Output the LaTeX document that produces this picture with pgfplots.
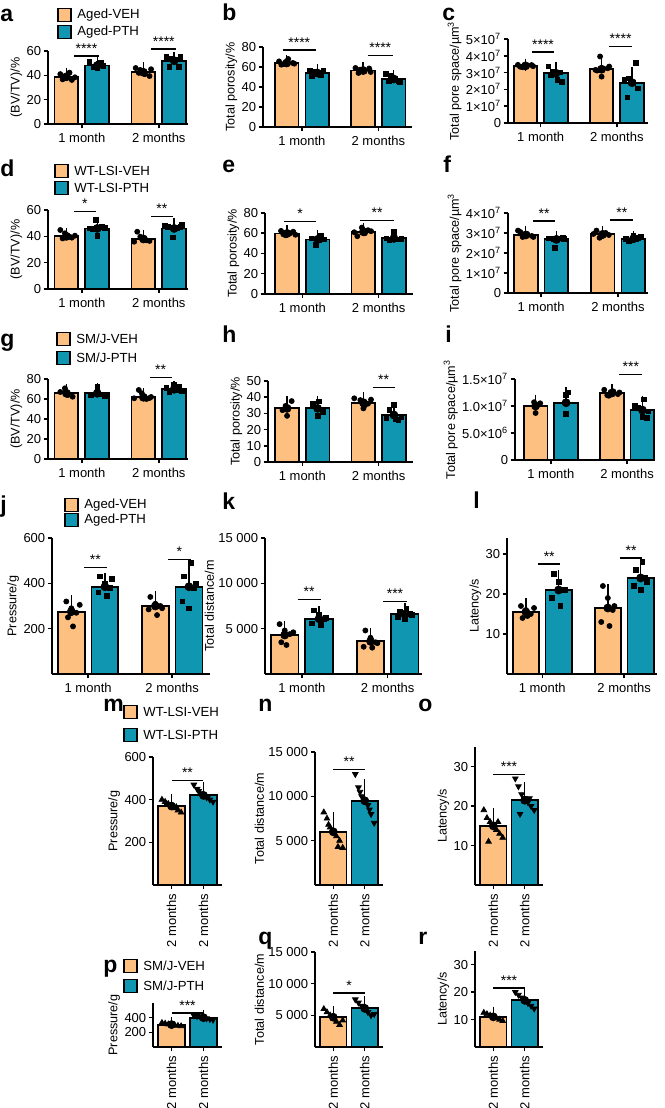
\documentclass[border=0pt]{standalone}
\usepackage{fontspec}
\setmainfont{Liberation Sans}
\usepackage{pgfplots}
\pgfplotsset{compat=1.18}
\usetikzlibrary{calc}

\definecolor{veh}{RGB}{253,192,128}
\definecolor{pth}{RGB}{16,150,176}

\newcommand\tickfont{\fontsize{6.5}{7}\selectfont}
\newcommand\labfont{\fontsize{6.3}{7}\selectfont}
\newcommand\starfont{\fontsize{7}{7}\selectfont}
\newcommand\panfont{\fontsize{11.5}{12}\selectfont\bfseries}
\newcommand\legfont{\fontsize{6.6}{7}\selectfont}

\def\BW{0.31}
% bar with mean and +SD whisker
\newcommand\Bar[4]{%
  \addplot[ybar, bar width=\BW, bar shift=0pt, fill=#4, draw=black, line width=0.9pt] coordinates {(#1,#2)};
  \addplot[only marks, mark=none, error bars/.cd, y dir=plus, y explicit,
    error bar style={line width=0.7pt, black},
    error mark options={line width=0.7pt, mark size=3pt, black}] coordinates {(#1,#2) +- (0,#3)};}
% individual animals
\newcommand\Pts[2]{\addplot[only marks, black, #1] coordinates {#2};}
\tikzset{cir/.style={mark=*, mark size=1.25pt},
         sqr/.style={mark=square*, mark size=1.15pt},
         tri/.style={mark=triangle*, mark size=1.6pt},
         itri/.style={mark=triangle*, mark size=1.6pt, mark options={rotate=180}}}
% significance bracket
\newcommand\Sig[4]{\draw[line width=0.75pt] (axis cs:#1,#3) -- (axis cs:#2,#3)
  node[midway, above, inner sep=1pt, font=\starfont] {#4};}

\pgfplotsset{
  bp/.style={
    scale only axis, anchor=south west, clip=false,
    axis x line*=bottom, axis y line*=left,
    axis line style={line width=0.75pt, black},
    tick style={line width=0.75pt, black},
    tick align=outside, major tick length=2.2pt,
    ymin=0, scaled y ticks=false,
    xtick={0,1}, xticklabels={1 month, 2 months},
    ticklabel style={font=\tickfont, black},
    y tick label style={inner sep=1pt},
    x tick label style={inner sep=2pt},
    ylabel style={font=\labfont, inner sep=1pt},
    /pgf/number format/assume math mode=true,
    /pgf/number format/1000 sep={},
  },
  single/.style={
    xtick={0,1}, xticklabels={2 months, 2 months},
    x tick label style={rotate=90, anchor=east, inner sep=2pt},
    xmin=-0.58, xmax=1.58,
  },
}

% legend drawn as two keyed boxes
\newcommand\Leg[5]{% x, y of first box centre, spacing, text1, text2
  \draw[fill=veh, line width=0.8pt] (#1,#2-3.3pt) rectangle ++(6.6pt,6.6pt);
  \node[anchor=west, font=\legfont, inner sep=0pt] at ($(#1,#2)+(9.5pt,0)$) {#4};
  \draw[fill=pth, line width=0.8pt] (#1,#2-#3-3.3pt) rectangle ++(6.6pt,6.6pt);
  \node[anchor=west, font=\legfont, inner sep=0pt] at ($(#1,#2-#3)+(9.5pt,0)$) {#5};}

\begin{document}
\begin{tikzpicture}
\path (0,0) rectangle (332pt,554pt);

% ---------------- row 1 ----------------
\node[font=\panfont, anchor=base west, inner sep=0pt] at (0pt,543pt) {a};
\node[font=\panfont, anchor=base west, inner sep=0pt] at (111pt,543.5pt) {b};
\node[font=\panfont, anchor=base west, inner sep=0pt] at (221pt,543.5pt) {c};
\Leg{29pt}{546.5pt}{8.5pt}{Aged-VEH}{Aged-PTH}

\begin{axis}[bp, at={(24pt,492pt)}, width=70pt, height=36.5pt,
  xmin=-0.44, xmax=1.38, ymax=60, ytick={0,20,40,60}, ylabel={(BV/TV)/\%}]
\Bar{-0.2}{38.8}{2.6}{veh}
\Pts{cir}{(-0.28,41)(-0.22,38.9)(-0.16,42.2)(-0.25,36.7)(-0.13,36.2)(-0.09,38.4)}
\Bar{0.2}{48}{2.8}{pth}
\Pts{sqr}{(0.1,51.2)(0.16,47)(0.22,49.8)(0.28,47.7)(0.2,45.8)(0.25,50.4)}
\Bar{0.8}{42.5}{3.2}{veh}
\Pts{cir}{(0.7,46)(0.76,44.4)(0.82,41)(0.88,39.4)(0.9,45)(0.74,42)}
\Bar{1.2}{52}{2.6}{pth}
\Pts{sqr}{(1.1,55.3)(1.16,54)(1.22,53.2)(1.28,55)(1.14,47)(1.26,47)}
\Sig{-0.1}{0.22}{55.9}{****}
\Sig{0.9}{1.23}{61.5}{****}
\end{axis}

\begin{axis}[bp, at={(131.5pt,490.5pt)}, width=74.5pt, height=40pt,
  xmin=-0.51, xmax=1.44, ymax=80, ytick={0,20,40,60,80}, ylabel={Total porosity/\%}]
\Bar{-0.2}{64}{2}{veh}
\Pts{cir}{(-0.3,65.6)(-0.24,63)(-0.18,68)(-0.12,64)(-0.27,62.3)(-0.1,63.3)}
\Bar{0.2}{54}{2.5}{pth}
\Pts{sqr}{(0.1,56.6)(0.16,55)(0.22,54)(0.28,56)(0.13,50.6)(0.25,51.5)}
\Bar{0.8}{56.5}{2}{veh}
\Pts{cir}{(0.7,59)(0.76,57.3)(0.82,55.6)(0.88,58.5)(0.74,54)(0.9,55)}
\Bar{1.2}{48}{3}{pth}
\Pts{sqr}{(1.1,53.3)(1.16,51.3)(1.22,48)(1.28,44.6)(1.14,45.6)(1.26,46)}
\Sig{-0.25}{0.18}{77}{****}
\Sig{0.86}{1.19}{71.3}{****}
\end{axis}

\begin{axis}[bp, at={(254pt,492.5pt)}, width=70pt, height=42pt,
  xmin=-0.43, xmax=1.41, ymax=5, ytick={0,1,2,3,4,5},
  yticklabels={0,1×10\textsuperscript{7},2×10\textsuperscript{7},3×10\textsuperscript{7},4×10\textsuperscript{7},5×10\textsuperscript{7}},
  ylabel={Total pore space/µm\textsuperscript{3}}]
\Bar{-0.2}{3.4}{0.08}{veh}
\Pts{cir}{(-0.3,3.46)(-0.24,3.32)(-0.18,3.4)(-0.12,3.45)(-0.27,3.35)(-0.1,3.38)}
\Bar{0.2}{2.96}{0.3}{pth}
\Pts{sqr}{(0.1,3.36)(0.16,3.06)(0.22,2.56)(0.28,2.46)(0.13,2.86)(0.25,3.0)}
\Bar{0.8}{3.2}{0.4}{veh}
\Pts{cir}{(0.78,3.96)(0.72,3.16)(0.8,2.76)(0.88,3.26)(0.74,3.12)(0.9,3.36)}
\Bar{1.2}{2.4}{0.55}{pth}
\Pts{sqr}{(1.25,3.56)(1.16,2.66)(1.22,2.4)(1.28,2.06)(1.14,1.52)(1.1,2.56)}
\Sig{-0.12}{0.18}{4.22}{****}
\Sig{0.9}{1.2}{4.56}{****}
\end{axis}

% ---------------- row 2 ----------------
\node[font=\panfont, anchor=base west, inner sep=0pt] at (0pt,465.5pt) {d};
\node[font=\panfont, anchor=base west, inner sep=0pt] at (111pt,467.5pt) {e};
\node[font=\panfont, anchor=base west, inner sep=0pt] at (221.5pt,467.5pt) {f};
\Leg{27.5pt}{468.5pt}{8.5pt}{WT-LSI-VEH}{WT-LSI-PTH}

\begin{axis}[bp, at={(24pt,409.5pt)}, width=70pt, height=39.5pt,
  xmin=-0.44, xmax=1.38, ymax=60, ytick={0,20,40,60}, ylabel={(BV/TV)/\%}]
\Bar{-0.2}{40}{2}{veh}
\Pts{cir}{(-0.28,44.8)(-0.22,42.3)(-0.16,39.7)(-0.25,38.4)(-0.13,39)(-0.09,40.5)}
\Bar{0.2}{46}{3.5}{pth}
\Pts{sqr}{(0.18,52.4)(0.1,46)(0.2,40.2)(0.26,47)(0.14,45.5)(0.3,46.5)}
\Bar{0.8}{38}{2.5}{veh}
\Pts{cir}{(0.72,43.5)(0.76,39.7)(0.68,35.9)(0.84,37)(0.88,36.5)(0.8,38.5)}
\Bar{1.2}{46}{3}{pth}
\Pts{sqr}{(1.3,48.6)(1.18,39.2)(1.12,47)(1.24,46.5)(1.08,48)(1.28,47)}
\Sig{-0.1}{0.18}{58.7}{*}
\Sig{0.9}{1.18}{54.9}{**}
\end{axis}

\begin{axis}[bp, at={(132.5pt,407pt)}, width=74pt, height=40.5pt,
  xmin=-0.49, xmax=1.45, ymax=80, ytick={0,20,40,60,80}, ylabel={Total porosity/\%}]
\Bar{-0.2}{59.8}{2}{veh}
\Pts{cir}{(-0.28,62.3)(-0.22,58)(-0.16,60)(-0.12,61.5)(-0.25,59)(-0.09,58.5)}
\Bar{0.2}{53.9}{3}{pth}
\Pts{sqr}{(0.24,58)(0.18,48.3)(0.12,55)(0.28,54)(0.22,53.5)}
\Bar{0.8}{61.4}{2.5}{veh}
\Pts{cir}{(0.78,65.6)(0.72,57.1)(0.68,61)(0.86,63)(0.9,62)(0.82,60)}
\Bar{1.2}{54.9}{2.5}{pth}
\Pts{sqr}{(1.2,61.4)(1.14,53.2)(1.1,55)(1.26,54)(1.3,54.5)}
\Sig{-0.24}{0.18}{71.8}{*}
\Sig{0.76}{1.2}{72.8}{**}
\end{axis}

\begin{axis}[bp, at={(254pt,407.5pt)}, width=70pt, height=40pt,
  xmin=-0.43, xmax=1.39, ymax=4, ytick={0,1,2,3,4},
  yticklabels={0,1×10\textsuperscript{7},2×10\textsuperscript{7},3×10\textsuperscript{7},4×10\textsuperscript{7}},
  ylabel={Total pore space/µm\textsuperscript{3}}]
\Bar{-0.2}{2.9}{0.15}{veh}
\Pts{cir}{(-0.3,3.12)(-0.24,2.8)(-0.18,2.95)(-0.12,2.85)(-0.27,3.05)(-0.1,2.8)}
\Bar{0.2}{2.68}{0.1}{pth}
\Pts{sqr}{(0.18,2.24)(0.1,2.73)(0.16,2.7)(0.22,2.72)(0.28,2.74)(0.3,2.7)}
\Bar{0.8}{2.93}{0.1}{veh}
\Pts{cir}{(0.72,3.12)(0.76,2.76)(0.68,2.95)(0.84,3.0)(0.88,2.9)(0.8,2.85)}
\Bar{1.2}{2.71}{0.1}{pth}
\Pts{sqr}{(1.2,2.85)(1.14,2.6)(1.1,2.7)(1.26,2.75)(1.3,2.8)(1.24,2.68)}
\Sig{-0.1}{0.18}{3.59}{**}
\Sig{0.9}{1.2}{3.64}{**}
\end{axis}

% ---------------- row 3 ----------------
\node[font=\panfont, anchor=base west, inner sep=0pt] at (0pt,380.5pt) {g};
\node[font=\panfont, anchor=base west, inner sep=0pt] at (111pt,382.5pt) {h};
\node[font=\panfont, anchor=base west, inner sep=0pt] at (222.5pt,382.5pt) {i};
\Leg{28.5pt}{384.5pt}{9.5pt}{SM/J-VEH}{SM/J-PTH}

\begin{axis}[bp, at={(24pt,324.5pt)}, width=70pt, height=40pt,
  xmin=-0.44, xmax=1.38, ymax=80, ytick={0,20,40,60,80}, ylabel={(BV/TV)/\%}]
\Bar{-0.2}{65.7}{3}{veh}
\Pts{cir}{(-0.22,70.7)(-0.28,67)(-0.12,62.3)(-0.18,64)}
\Bar{0.2}{65.7}{4}{pth}
\Pts{sqr}{(0.2,72.3)(0.12,64)(0.26,64.5)(0.3,63)}
\Bar{0.8}{61.7}{3}{veh}
\Pts{cir}{(0.74,69)(0.78,65.7)(0.68,60.7)(0.84,60)(0.88,61)(0.9,62)}
\Bar{1.2}{69.7}{2.5}{pth}
\Pts{sqr}{(1.2,74)(1.14,67.3)(1.1,71)(1.26,72)(1.3,68)(1.22,69)}
\Sig{0.88}{1.17}{81.3}{**}
\end{axis}

\begin{axis}[bp, at={(134pt,323pt)}, width=72.5pt, height=40.5pt,
  xmin=-0.45, xmax=1.45, ymax=50, ytick={0,10,20,30,40,50}, ylabel={Total porosity/\%}]
\Bar{-0.2}{33.1}{4}{veh}
\Pts{cir}{(-0.14,37.6)(-0.22,34.6)(-0.2,28.5)(-0.26,32)}
\Bar{0.2}{33.1}{4}{pth}
\Pts{sqr}{(0.22,37.3)(0.14,35.9)(0.2,28.5)(0.27,31)}
\Bar{0.8}{36.6}{3}{veh}
\Pts{cir}{(0.68,39.3)(0.76,38.2)(0.8,33.1)(0.86,36)(0.9,38.5)(0.82,35)}
\Bar{1.2}{29}{3.5}{pth}
\Pts{sqr}{(1.2,35.2)(1.14,32.1)(1.1,27)(1.26,26)(1.3,28)(1.22,26.5)}
\Sig{0.92}{1.21}{46}{**}
\end{axis}

\begin{axis}[bp, at={(257.5pt,324pt)}, width=69pt, height=40.5pt,
  xmin=-0.47, xmax=1.34, ymax=1.5, ytick={0,0.5,1,1.5},
  yticklabels={0,5.0×10\textsuperscript{6},1.0×10\textsuperscript{7},1.5×10\textsuperscript{7}},
  ylabel={Total pore space/µm\textsuperscript{3}}]
\Bar{-0.2}{1.0}{0.1}{veh}
\Pts{cir}{(-0.22,1.07)(-0.2,0.87)(-0.14,1.05)}
\Bar{0.2}{1.06}{0.18}{pth}
\Pts{sqr}{(0.2,1.2)(0.2,0.85)(0.22,1.25)}
\Bar{0.8}{1.24}{0.06}{veh}
\Pts{cir}{(0.7,1.3)(0.76,1.19)(0.82,1.27)(0.88,1.22)(0.9,1.25)(0.74,1.2)}
\Bar{1.2}{0.925}{0.15}{pth}
\Pts{sqr}{(1.22,1.12)(1.14,0.96)(1.2,0.8)(1.28,0.9)(1.1,1.0)(1.26,0.78)}
\Sig{0.9}{1.2}{1.58}{***}
\end{axis}

% ---------------- row 4 ----------------
\def\BW{0.32}
\node[font=\panfont, anchor=base west, inner sep=0pt] at (0pt,297.5pt) {j};
\node[font=\panfont, anchor=base west, inner sep=0pt] at (111pt,299pt) {k};
\node[font=\panfont, anchor=base west, inner sep=0pt] at (236.5pt,299.5pt) {l};
\Leg{32.5pt}{301.5pt}{7.5pt}{Aged-VEH}{Aged-PTH}

\begin{axis}[bp, at={(26pt,217pt)}, width=79pt, height=68pt,
  xmin=-0.43, xmax=1.45, ymax=600, ytick={200,400,600}, ylabel={Pressure/g}]
\Bar{-0.2}{275}{45}{veh}
\Pts{cir}{(-0.26,320)(-0.2,290)(-0.14,270)(-0.24,250)(-0.18,210)(-0.1,305)}
\Bar{0.2}{385}{35}{pth}
\Pts{sqr}{(0.14,430)(0.2,400)(0.26,380)(0.12,360)(0.22,345)(0.28,420)}
\Bar{0.8}{300}{40}{veh}
\Pts{cir}{(0.74,340)(0.8,310)(0.86,300)(0.72,285)(0.82,260)(0.88,290)}
\Bar{1.2}{385}{80}{pth}
\Pts{sqr}{(1.22,490)(1.14,430)(1.26,380)(1.12,320)(1.2,290)(1.28,400)}
\Sig{-0.05}{0.22}{470}{**}
\Sig{0.95}{1.22}{505}{*}
\end{axis}

\begin{axis}[bp, at={(132.5pt,217pt)}, width=78.5pt, height=68pt,
  xmin=-0.43, xmax=1.4, ymax=15000, ytick={5000,10000,15000},
  yticklabels={5 000,10 000,15 000}, ylabel={Total distance/m}]
\Bar{-0.2}{4300}{900}{veh}
\Pts{cir}{(-0.26,5500)(-0.2,4800)(-0.14,4400)(-0.24,3500)(-0.18,3200)(-0.1,4600)}
\Bar{0.2}{6100}{700}{pth}
\Pts{sqr}{(0.14,7000)(0.2,6500)(0.26,6000)(0.12,5600)(0.22,5400)(0.28,6200)}
\Bar{0.8}{3600}{800}{veh}
\Pts{cir}{(0.74,4800)(0.8,4000)(0.86,3500)(0.72,3000)(0.82,2900)(0.88,3400)}
\Bar{1.2}{6600}{600}{pth}
\Pts{sqr}{(1.22,7200)(1.14,6900)(1.26,6600)(1.12,6300)(1.2,6000)(1.28,6500)}
\Sig{-0.05}{0.22}{8200}{**}
\Sig{0.95}{1.22}{8000}{***}
\end{axis}

\begin{axis}[bp, at={(253.5pt,217pt)}, width=75pt, height=68pt,
  xmin=-0.43, xmax=1.4, ymax=34, ytick={10,20,30}, ylabel={Latency/s}]
\Bar{-0.2}{15.5}{2}{veh}
\Pts{cir}{(-0.26,17)(-0.2,16)(-0.14,15)(-0.24,14)(-0.18,14.5)(-0.1,16.5)}
\Bar{0.2}{21}{3.5}{pth}
\Pts{sqr}{(0.14,25)(0.2,23)(0.26,21)(0.12,19)(0.22,17)(0.28,21)}
\Bar{0.8}{16.5}{4.5}{veh}
\Pts{cir}{(0.74,22)(0.8,19)(0.86,16)(0.72,13)(0.82,12)(0.88,17)}
\Bar{1.2}{24}{3}{pth}
\Pts{sqr}{(1.22,28)(1.14,26)(1.26,24)(1.12,22)(1.2,21)(1.28,23)}
\Sig{-0.05}{0.22}{27.5}{**}
\Sig{0.95}{1.22}{29}{**}
\end{axis}

% ---------------- row 5 ----------------
\def\BW{0.84}
\node[font=\panfont, anchor=base west, inner sep=0pt] at (51.5pt,198pt) {m};
\node[font=\panfont, anchor=base west, inner sep=0pt] at (129pt,198pt) {n};
\node[font=\panfont, anchor=base west, inner sep=0pt] at (209pt,198pt) {o};
\Leg{62pt}{198pt}{11.5pt}{WT-LSI-VEH}{WT-LSI-PTH}

\begin{axis}[bp, single, at={(76.5pt,111.5pt)}, width=34.5pt, height=64pt,
  ymax=600, ytick={200,400,600}, ylabel={Pressure/g}]
\Bar{0}{370}{30}{veh}
\Pts{tri}{(-0.3,400)(-0.2,390)(-0.1,380)(0,370)(0.1,360)(0.2,350)(0.3,340)(-0.15,380)(0.15,365)}
\Bar{1}{420}{35}{pth}
\Pts{itri}{(0.7,470)(0.8,450)(0.9,430)(1,420)(1.1,410)(1.2,400)(1.3,390)(0.85,440)(1.15,415)}
\Sig{0}{1}{490}{**}
\end{axis}

\begin{axis}[bp, single, at={(157.5pt,111.5pt)}, width=34pt, height=66.5pt,
  ymax=15000, ytick={5000,10000,15000},
  yticklabels={5 000,10 000,15 000}, ylabel={Total distance/m}]
\Bar{0}{6000}{1500}{veh}
\Pts{tri}{(-0.3,8200)(-0.2,7500)(-0.1,6500)(0,6000)(0.1,5500)(0.2,5000)(0.3,4200)(-0.15,6800)(0.15,4300)}
\Bar{1}{9500}{1800}{pth}
\Pts{itri}{(0.7,12500)(0.8,11000)(0.9,10000)(1,9500)(1.1,9000)(1.2,8000)(1.3,7000)(0.85,10500)(1.15,8500)}
\Sig{0}{1}{13000}{**}
\end{axis}

\begin{axis}[bp, single, at={(237.5pt,111.5pt)}, width=34pt, height=69pt,
  ymax=35, ytick={10,20,30}, ylabel={Latency/s}]
\Bar{0}{15}{3}{veh}
\Pts{tri}{(-0.3,19)(-0.2,17)(-0.1,16)(0,15)(0.1,14)(0.2,13)(0.3,12)(-0.15,11)(0.15,16)}
\Bar{1}{21.5}{3}{pth}
\Pts{itri}{(0.7,27)(0.8,25)(0.9,23)(1,22)(1.1,21)(1.2,20)(1.3,19)(0.85,18)(1.15,22)}
\Sig{0}{1}{28}{***}
\end{axis}

% ---------------- row 6 ----------------
\node[font=\panfont, anchor=base west, inner sep=0pt] at (51.5pt,67.5pt) {p};
\node[font=\panfont, anchor=base west, inner sep=0pt] at (129pt,81.5pt) {q};
\node[font=\panfont, anchor=base west, inner sep=0pt] at (209pt,81.5pt) {r};
\Leg{62pt}{71pt}{10pt}{SM/J-VEH}{SM/J-PTH}

\begin{axis}[bp, single, at={(76.5pt,30.5pt)}, width=34.5pt, height=22pt,
  ymax=600, ytick={200,400}, ylabel={Pressure/g}]
\Bar{0}{305}{20}{veh}
\Pts{tri}{(-0.3,330)(-0.2,320)(-0.1,310)(0,305)(0.1,300)(0.2,290)(0.3,285)}
\Bar{1}{400}{25}{pth}
\Pts{itri}{(0.7,430)(0.8,420)(0.9,410)(1,400)(1.1,390)(1.2,380)(1.3,370)}
\Sig{0}{1}{465}{***}
\end{axis}

\begin{axis}[bp, single, at={(157.5pt,30.5pt)}, width=34pt, height=47.5pt,
  ymax=15000, ytick={5000,10000,15000},
  yticklabels={5 000,10 000,15 000}, ylabel={Total distance/m}]
\Bar{0}{4700}{900}{veh}
\Pts{tri}{(-0.3,6000)(-0.2,5500)(-0.1,5000)(0,4500)(0.1,4000)(0.2,3500)(0.3,4200)}
\Bar{1}{6100}{1000}{pth}
\Pts{itri}{(0.7,7500)(0.8,7000)(0.9,6500)(1,6000)(1.1,5500)(1.2,5000)(1.3,5200)}
\Sig{0}{1}{8500}{*}
\end{axis}

\begin{axis}[bp, single, at={(237.5pt,30.5pt)}, width=34pt, height=48pt,
  ymax=35, ytick={10,20,30}, ylabel={Latency/s}]
\Bar{0}{11}{1.5}{veh}
\Pts{tri}{(-0.3,12.5)(-0.2,12)(-0.1,11.5)(0,11)(0.1,10.5)(0.2,10)(0.3,9.5)}
\Bar{1}{17}{2}{pth}
\Pts{itri}{(0.7,20)(0.8,19)(0.9,18)(1,17)(1.1,16)(1.2,15)(1.3,14)}
\Sig{0}{1}{21.5}{***}
\end{axis}

\pgfresetboundingbox
\path[use as bounding box] (0,0) rectangle (332pt,554pt);
\end{tikzpicture}
\end{document}
